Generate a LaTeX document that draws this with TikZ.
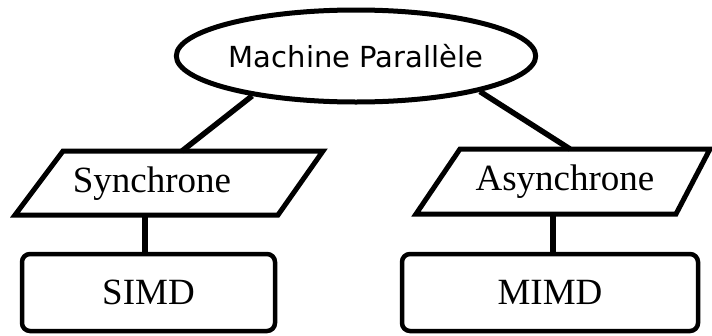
\documentclass[tikz,border=0pt]{standalone}
\usepackage{fontspec}
\setmainfont{Liberation Serif}
\newfontfamily\labelsans{DejaVu Sans}
\usetikzlibrary{shapes.geometric}

\tikzset{
  rootnode/.style={ellipse, draw, line width=5pt, minimum width=342pt,
    minimum height=92pt, inner sep=0pt, font=\labelsans\fontsize{29}{32}\selectfont},
  slanted/.style={draw, line width=5pt, line join=miter},
  leafbox/.style={draw, line width=4.5pt, rounded corners=8pt, inner sep=0pt,
    font=\fontsize{37}{40}\selectfont},
  kindtext/.style={inner sep=0pt, font=\fontsize{37}{40}\selectfont},
  link/.style={line width=5.5pt},
}

\begin{document}
\begin{tikzpicture}[x=1pt, y=-1pt]
  \useasboundingbox (0,0) rectangle (712,335);

  % root of the classification
  \node[rootnode] (root) at (356,56) {Machine Parall\`ele};

  % the two execution models, drawn as parallelograms
  \draw[slanted] (15,215) -- (63,151) -- (323,151) -- (278,215) -- cycle;
  \node[kindtext] (sync) at (152,184) {Synchrone};
  \coordinate (sync-top) at (182,151);
  \coordinate (sync-bot) at (145,215);

  \draw[slanted] (416,214) -- (460,149) -- (710,149) -- (676,214) -- cycle;
  \node[kindtext] (async) at (565,182) {Asynchrone};
  \coordinate (async-top) at (570,149);
  \coordinate (async-bot) at (553,214);

  % leaf architectures
  \node[leafbox, minimum width=253pt, minimum height=77pt] (simd) at (148.5,292.5) {SIMD};
  \node[leafbox, minimum width=296pt, minimum height=77pt] (mimd) at (550,292.5) {MIMD};

  % connectors
  \draw[link] (root.201) -- (sync-top);
  \draw[link] (root.344) -- (async-top);
  \draw[link] (sync-bot) -- (sync-bot |- simd.north);
  \draw[link] (async-bot) -- (async-bot |- mimd.north);
\end{tikzpicture}
\end{document}
